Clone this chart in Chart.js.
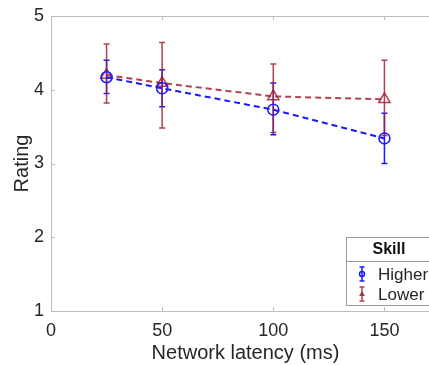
<!DOCTYPE html>
<html>
<head>
<meta charset="utf-8">
<script src="https://cdn.jsdelivr.net/npm/chart.js@4"></script>
<style>
  html, body { margin: 0; padding: 0; background: #fff; overflow: hidden; }
  #wrap { width: 440px; height: 365px; }
</style>
</head>
<body>
<div id="wrap"><canvas id="c" width="440" height="365"></canvas></div>
<script>
// ------- Data -------
const latency = [25, 50, 100, 150];
const higherMean = [4.17, 4.02, 3.73, 3.34];
const higherLow  = [3.95, 3.77, 3.39, 3.00];
const higherHigh = [4.40, 4.27, 4.09, 3.68];
const lowerMean  = [4.20, 4.09, 3.91, 3.87];
const lowerLow   = [3.82, 3.48, 3.42, 3.38];
const lowerHigh  = [4.62, 4.64, 4.35, 4.40];
const xTicks = [0, 50, 100, 150];
const yTicks = [1, 2, 3, 4, 5];

const BLUE = '#1a1aff';
const RED = 'rgba(165,30,50,0.85)';
const TXT = '#262626';
const FONT = '"Liberation Sans", Arial, sans-serif';

const pts = (ys) => latency.map((x, i) => ({ x, y: ys[i] }));

// error bars + inward ticks + MATLAB style legend box
const errorBars = {
  id: 'errorBars',
  beforeDatasetsDraw(chart) {
    const { ctx, scales: { x, y } } = chart;
    const bars = [
      { lo: higherLow, hi: higherHigh, color: BLUE },
      { lo: lowerLow, hi: lowerHigh, color: RED }
    ];
    ctx.save();
    bars.forEach(b => {
      ctx.strokeStyle = b.color;
      ctx.lineWidth = 1.5;
      latency.forEach((lx, i) => {
        const px = x.getPixelForValue(lx);
        const top = y.getPixelForValue(b.hi[i]);
        const bot = y.getPixelForValue(b.lo[i]);
        ctx.beginPath();
        ctx.moveTo(px, top); ctx.lineTo(px, bot);
        ctx.moveTo(px - 3, top); ctx.lineTo(px + 3, top);
        ctx.moveTo(px - 3, bot); ctx.lineTo(px + 3, bot);
        ctx.stroke();
      });
    });
    ctx.restore();
  },
  afterDraw(chart) {
    const { ctx, chartArea: a, scales: { x, y } } = chart;
    ctx.save();
    // frame: top + left + bottom
    ctx.strokeStyle = '#bdbdbd';
    ctx.lineWidth = 1;
    ctx.beginPath();
    ctx.moveTo(a.right, a.top + 0.5); ctx.lineTo(a.left + 0.5, a.top + 0.5);
    ctx.lineTo(a.left + 0.5, a.bottom + 0.5); ctx.lineTo(a.right, a.bottom + 0.5);
    ctx.stroke();
    // inward ticks
    ctx.beginPath();
    xTicks.forEach(v => {
      const px = Math.round(x.getPixelForValue(v)) + 0.5;
      ctx.moveTo(px, a.bottom); ctx.lineTo(px, a.bottom - 4);
      ctx.moveTo(px, a.top); ctx.lineTo(px, a.top + 4);
    });
    yTicks.forEach(v => {
      const py = Math.round(y.getPixelForValue(v)) + 0.5;
      ctx.moveTo(a.left, py); ctx.lineTo(a.left + 4, py);
    });
    ctx.stroke();

    // legend box
    const lx = 346, ly = 237, lw = 100, lh = 68;
    ctx.fillStyle = '#fff';
    ctx.fillRect(lx, ly, lw, lh);
    ctx.strokeStyle = '#9a9a9a';
    ctx.strokeRect(lx + 0.5, ly + 0.5, lw, lh);
    ctx.beginPath();
    ctx.moveTo(lx, ly + 24.5); ctx.lineTo(lx + lw, ly + 24.5);
    ctx.stroke();
    ctx.fillStyle = '#111';
    ctx.font = 'bold 16px ' + FONT;
    ctx.textAlign = 'center';
    ctx.textBaseline = 'middle';
    ctx.fillText('Skill', 389, ly + 13);
    const items = [
      { label: 'Higher', color: BLUE, cy: 274, tri: false },
      { label: 'Lower', color: RED, cy: 294, tri: true }
    ];
    items.forEach(it => {
      const ix = 362;
      ctx.strokeStyle = it.color;
      ctx.fillStyle = it.color;
      ctx.lineWidth = 1.5;
      ctx.beginPath();
      ctx.moveTo(ix, it.cy - 7); ctx.lineTo(ix, it.cy + 7);
      ctx.moveTo(ix - 2.5, it.cy - 7); ctx.lineTo(ix + 2.5, it.cy - 7);
      ctx.moveTo(ix - 2.5, it.cy + 7); ctx.lineTo(ix + 2.5, it.cy + 7);
      ctx.stroke();
      ctx.beginPath();
      if (it.tri) {
        ctx.moveTo(ix, it.cy - 3); ctx.lineTo(ix + 3, it.cy + 2); ctx.lineTo(ix - 3, it.cy + 2);
        ctx.closePath(); ctx.fill();
      } else {
        ctx.arc(ix, it.cy, 2.5, 0, Math.PI * 2); ctx.stroke();
      }
      ctx.fillStyle = TXT;
      ctx.font = '17px ' + FONT;
      ctx.textAlign = 'left';
      ctx.fillText(it.label, 378, it.cy + 1);
    });
    ctx.restore();
  }
};

new Chart(document.getElementById('c'), {
  type: 'line',
  data: {
    datasets: [
      {
        label: 'Higher', data: pts(higherMean),
        borderColor: BLUE, borderWidth: 2, borderDash: [6, 4],
        pointStyle: 'circle', pointRadius: 5.5, pointBorderWidth: 1.5,
        pointBorderColor: BLUE, pointBackgroundColor: 'rgba(0,0,0,0)', tension: 0
      },
      {
        label: 'Lower', data: pts(lowerMean),
        borderColor: RED, borderWidth: 2, borderDash: [6, 4],
        pointStyle: 'triangle', pointRadius: 6.5, pointBorderWidth: 1.5,
        pointBorderColor: RED, pointBackgroundColor: 'rgba(0,0,0,0)', tension: 0
      }
    ]
  },
  options: {
    responsive: false, animation: false,
    layout: { autoPadding: false, padding: { top: 16, right: 0, left: 0, bottom: 0 } },
    plugins: { legend: { display: false }, tooltip: { enabled: false } },
    scales: {
      x: {
        type: 'linear', min: 0, max: 175,
        afterBuildTicks: s => { s.ticks = xTicks.map(v => ({ value: v })); },
        afterFit: s => { s.height = 54; s.paddingRight = 0; s.paddingLeft = 0; },
        grid: { display: false, drawTicks: false }, border: { display: false },
        ticks: { color: TXT, font: { family: FONT, size: 18 }, padding: 9, maxRotation: 0 },
        title: { display: true, text: 'Network latency (ms)', color: TXT, font: { family: FONT, size: 20 }, padding: { top: 0, bottom: 0 } }
      },
      y: {
        min: 1, max: 5,
        afterBuildTicks: s => { s.ticks = yTicks.map(v => ({ value: v })); },
        afterFit: s => { s.width = 51; s.paddingTop = 0; s.paddingBottom = 0; },
        grid: { display: false, drawTicks: false }, border: { display: false },
        ticks: { color: TXT, font: { family: FONT, size: 18 }, padding: 7 },
        title: { display: true, text: 'Rating', color: TXT, font: { family: FONT, size: 20 }, padding: { top: 10, bottom: 0 } }
      }
    }
  },
  plugins: [errorBars]
});
</script>
</body>
</html>
